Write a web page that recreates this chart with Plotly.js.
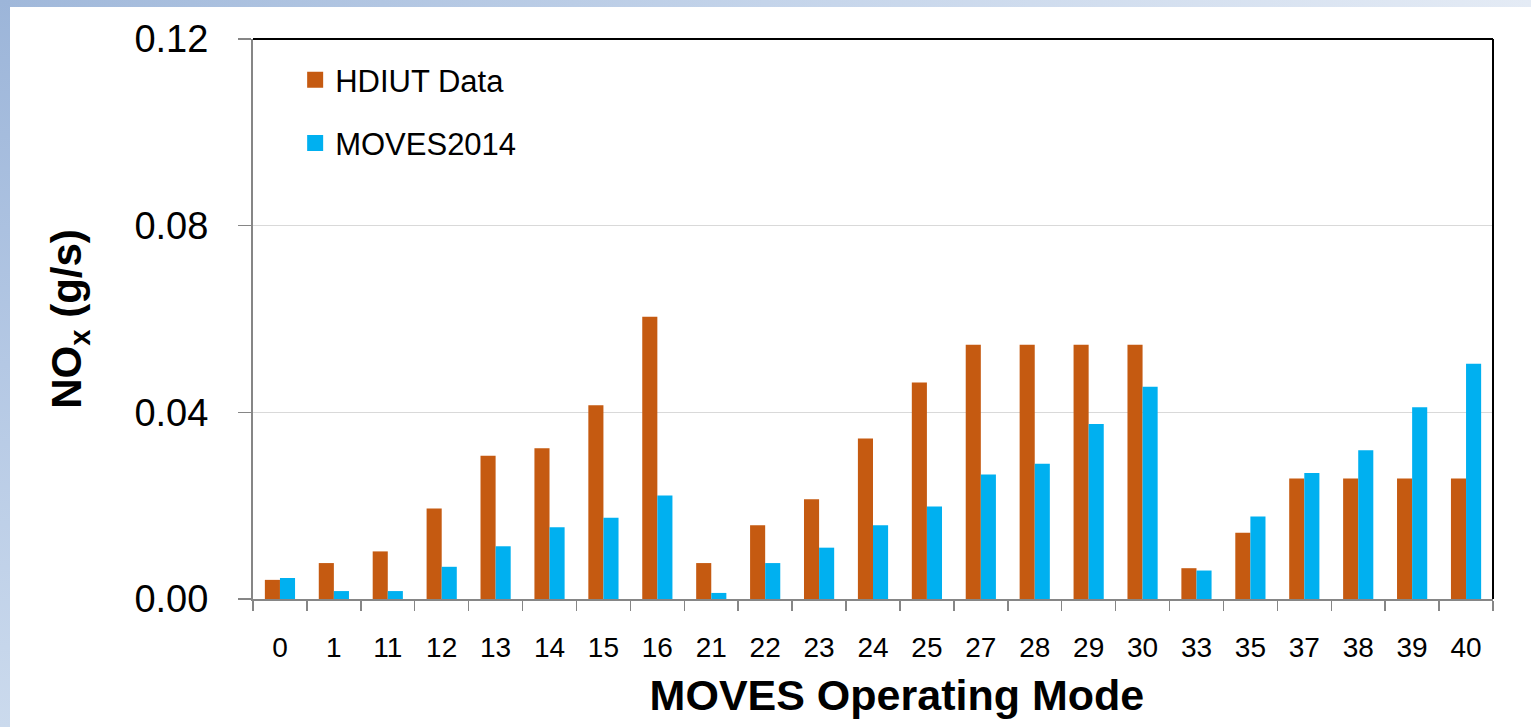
<!DOCTYPE html>
<html>
<head>
<meta charset="utf-8">
<script src="https://cdn.plot.ly/plotly-3.0.1.min.js"></script>
<style>
  html, body { margin: 0; padding: 0; width: 1531px; height: 727px; overflow: hidden; background: #ffffff; }
  #topbar { position: absolute; left: 0; top: 0; width: 1531px; height: 7px; background: linear-gradient(to right, #a0b8da, #c4d4ea 50%, #e4ebf5); }
  #leftbar { position: absolute; left: 0; top: 0; width: 10px; height: 727px; background: linear-gradient(to bottom, #9cb5d9, #b4c8e4 50%, #cbdaed); }
  #chart { position: absolute; left: 10px; top: 7px; width: 1521px; height: 720px; }
</style>
</head>
<body>
<div id="topbar"></div>
<div id="leftbar"></div>
<div id="chart"></div>
<script>
const categories = ['0','1','11','12','13','14','15','16','21','22','23','24','25','27','28','29','30','33','35','37','38','39','40'];
const hdiutData = [0.0041,0.0077,0.0102,0.0194,0.0307,0.0323,0.0415,0.0605,0.0077,0.0158,0.0214,0.0344,0.0464,0.0545,0.0545,0.0545,0.0545,0.0066,0.0142,0.0258,0.0258,0.0258,0.0258];
const moves2014 = [0.0045,0.0017,0.0017,0.0069,0.0113,0.0154,0.0174,0.0222,0.0013,0.0077,0.0110,0.0158,0.0198,0.0267,0.0290,0.0375,0.0455,0.0061,0.0177,0.0270,0.0319,0.0411,0.0504];
const seriesNames = ['HDIUT Data', 'MOVES2014'];
const seriesColors = ['#C55A11', '#00B0F0'];
const yTickVals = [0, 0.04, 0.08, 0.12];

const FONT = 'Liberation Sans, Arial, sans-serif';

const traces = [
  {
    type: 'bar', name: seriesNames[0], x: categories, y: hdiutData,
    marker: { color: seriesColors[0], line: { width: 0 } }, showlegend: false
  },
  {
    type: 'bar', name: seriesNames[1], x: categories, y: moves2014,
    marker: { color: seriesColors[1], line: { width: 0 } }, showlegend: false
  },
  // legend entries (square keys)
  {
    type: 'scatter', mode: 'markers', name: seriesNames[0], x: [null], y: [null],
    marker: { symbol: 'square', size: 16, color: seriesColors[0] }, legendgroup: 'a', hoverinfo: 'skip'
  },
  {
    type: 'scatter', mode: 'markers', name: seriesNames[1], x: [null], y: [null],
    marker: { symbol: 'square', size: 16, color: seriesColors[1] }, legendgroup: 'b', hoverinfo: 'skip'
  }
];

const layout = {
  width: 1521, height: 720,
  margin: { l: 243, r: 38, t: 32, b: 128 },
  paper_bgcolor: '#ffffff', plot_bgcolor: '#ffffff',
  barmode: 'group', bargap: 0.44, bargroupgap: 0,
  font: { family: FONT, color: '#000000' },
  showlegend: true,
  legend: {
    x: 0.034, y: 0.975, xanchor: 'left', yanchor: 'top',
    bgcolor: 'rgba(0,0,0,0)', borderwidth: 0,
    font: { family: FONT, size: 31, color: '#000000' },
    traceorder: 'grouped', tracegroupgap: 20, itemwidth: 30
  },
  xaxis: {
    type: 'category',
    showline: true, linecolor: '#868686', linewidth: 2,
    ticks: 'outside', tickson: 'boundaries', ticklen: 10, tickwidth: 1.5, tickcolor: '#868686',
    tickfont: { family: FONT, size: 28, color: '#000000' },
    ticklabelstandoff: 22,
    showgrid: false, zeroline: false,
    title: { text: '<b>\u00a0\u00a0\u00a0\u00a0MOVES Operating Mode</b>', font: { family: FONT, size: 43, color: '#000000' }, standoff: 18 }
  },
  yaxis: {
    range: [0, 0.12], tickvals: yTickVals, tickformat: '.2f',
    showline: true, linecolor: '#868686', linewidth: 2,
    ticks: 'outside', ticklen: 13, tickwidth: 1.5, tickcolor: '#868686',
    tickfont: { family: FONT, size: 38, color: '#000000' },
    ticklabelstandoff: 22,
    showgrid: true, gridcolor: '#d9d9d9', gridwidth: 1.5, zeroline: false,
    title: { text: '<b>NO<sub>x</sub> (g/s)</b>', font: { family: FONT, size: 42, color: '#000000' }, standoff: 40 }
  },
  shapes: [
    { type: 'line', xref: 'paper', yref: 'paper', x0: 0, x1: 1, y0: 1, y1: 1, line: { color: '#000000', width: 2 } },
    { type: 'line', xref: 'paper', yref: 'paper', x0: 1, x1: 1, y0: 0, y1: 1, line: { color: '#000000', width: 2 } }
  ]
};

Plotly.newPlot('chart', traces, layout, { displayModeBar: false, staticPlot: true });
</script>
</body>
</html>
